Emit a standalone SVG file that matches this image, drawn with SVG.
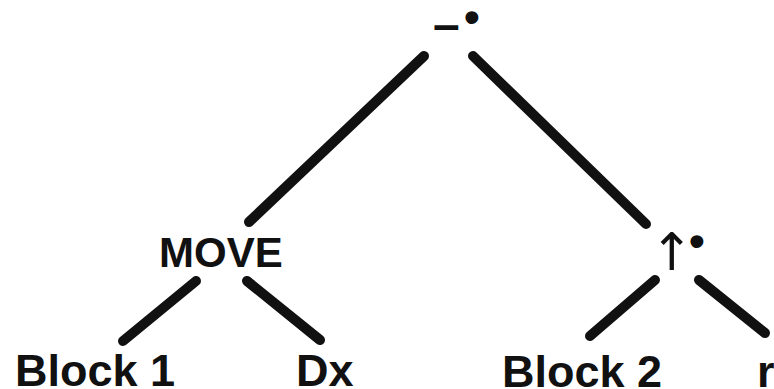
<svg xmlns="http://www.w3.org/2000/svg" width="774" height="389" viewBox="0 0 774 389">
<style>
.lbl{font-family:"Liberation Sans",Arial,sans-serif;font-weight:bold;fill:#111}
.op{font-family:"DejaVu Sans","Liberation Sans",sans-serif;fill:#111}
.dot{font-family:"Liberation Sans",Arial,sans-serif;font-weight:bold;fill:#111;font-size:45px}
.edge{stroke:#111;stroke-width:10;stroke-linecap:round;fill:none}
</style>
<rect width="774" height="389" fill="#fff"/>
<g id="connectors">
<line class="edge" x1="424" y1="56" x2="249" y2="222"/>
<line class="edge" x1="473" y1="56" x2="646" y2="224"/>
<line class="edge" x1="196" y1="281" x2="123" y2="341"/>
<line class="edge" x1="247" y1="281" x2="320" y2="340"/>
<line class="edge" x1="655" y1="280" x2="590" y2="336"/>
<line class="edge" x1="699" y1="280" x2="765" y2="333"/>
</g>
<g id="node-minus">
<text class="lbl" x="433" y="41" font-size="48">–</text>
<text class="dot" x="464" y="32">•</text>
</g>
<g id="node-move">
<text class="lbl" x="159" y="267" font-size="42">MOVE</text>
</g>
<g id="node-up">
<text class="op" x="650" y="270" font-size="52">↑</text>
<text class="dot" x="689" y="256">•</text>
</g>
<g id="node-block1"><text class="lbl" x="15" y="386" font-size="45">Block 1</text></g>
<g id="node-dx"><text class="lbl" x="296" y="386" font-size="45">Dx</text></g>
<g id="node-block2"><text class="lbl" x="502" y="387" font-size="45">Block 2</text></g>
<g id="node-r"><text class="lbl" x="757" y="387" font-size="45">r</text></g>
</svg>
